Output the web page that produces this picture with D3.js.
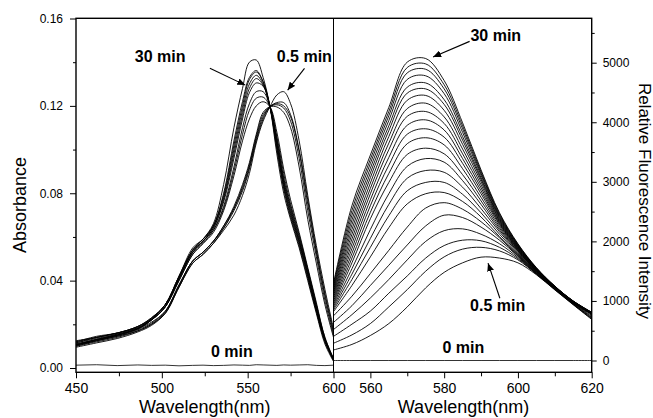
<!DOCTYPE html>
<html>
<head>
<meta charset="utf-8">
<script src="https://cdn.jsdelivr.net/npm/d3@7"></script>
<style>
body{margin:0;background:#fff;}
svg{display:block;font-family:"Liberation Sans",Arial,sans-serif;}
</style>
</head>
<body>
<svg width="653" height="418"></svg>
<script>
// absorbance spectra, values
var absWl = [450,462,474,486,494,502,510,518,524,530,536,542,547,551,555,559,563,567,571,575,580,585,590,595,600];

// red-shifted group, 0.5 min first
var absRed = [
  [.010,.012,.014,.017,.020,.025,.037,.048,.052,.057,.063,.070,.079,.089,.103,.113,.1196,.125,.1265,.121,.104,.079,.056,.036,.018],
  [.0105,.0125,.0145,.0175,.0205,.026,.038,.049,.053,.058,.064,.072,.081,.091,.104,.114,.1196,.1215,.1215,.116,.100,.077,.054,.034,.017],
  [.011,.013,.015,.018,.021,.026,.038,.049,.053,.058,.065,.073,.082,.092,.105,.115,.1196,.121,.120,.115,.099,.075,.053,.033,.016],
  [.0095,.0115,.0135,.0165,.0195,.025,.037,.048,.052,.057,.064,.073,.083,.093,.106,.116,.1196,.1205,.119,.113,.096,.072,.051,.031,.015],
  [.0105,.0125,.0145,.017,.020,.0255,.0375,.049,.053,.058,.065,.074,.084,.094,.107,.117,.1196,.1195,.117,.110,.092,.068,.048,.029,.014]
];
// blue-shifted group, 30 min last
var absBlue = [
  [.0105,.013,.015,.018,.022,.028,.040,.052,.057,.062,.072,.088,.104,.114,.120,.1219,.1196,.108,.091,.077,.062,.046,.030,.014,.0045],
  [.012,.014,.016,.019,.023,.029,.041,.053,.058,.063,.073,.090,.107,.118,.1235,.124,.1196,.106,.089,.075,.061,.045,.029,.014,.004],
  [.010,.0125,.015,.018,.022,.028,.040,.052,.057,.063,.074,.092,.110,.121,.1265,.1265,.1196,.105,.087,.074,.060,.045,.029,.013,.004],
  [.0115,.014,.016,.0185,.0225,.029,.041,.054,.058,.064,.076,.096,.114,.126,.1305,.129,.1196,.104,.086,.073,.059,.044,.028,.013,.004],
  [.0105,.013,.015,.018,.022,.028,.041,.053,.058,.064,.077,.098,.116,.128,.1325,.1295,.1196,.103,.085,.072,.058,.043,.027,.013,.004],
  [.012,.0145,.016,.019,.0225,.029,.042,.055,.059,.065,.078,.100,.118,.130,.134,.130,.1196,.102,.084,.071,.058,.043,.027,.013,.0035],
  [.011,.013,.0155,.018,.022,.028,.041,.053,.058,.065,.079,.102,.120,.132,.1355,.131,.1196,.101,.083,.070,.057,.042,.026,.012,.0035],
  [.0125,.014,.016,.019,.023,.029,.042,.054,.059,.065,.080,.104,.122,.133,.1362,.131,.1196,.100,.082,.069,.056,.041,.026,.012,.0035],
  [.0115,.0135,.0155,.0185,.0225,.029,.042,.054,.059,.066,.084,.110,.128,.140,.141,.133,.1196,.098,.080,.068,.055,.040,.025,.011,.003]
];
var absZero = [.0013,.0015,.0011,.0014,.0012,.0013,.0010,.0012,.0013,.0011,.0012,.0014,.0013,.0012,.0015,.0014,.0013,.0012,.0014,.0013,.0014,.0015,.0012,.0011,.0013];

// fluorescence spectra, 30 min first ... 0.5 min last
var flWl = [550,555,560,565,570,575,580,585,590,595,600,605,610,615,620];
var flCurves = [
  [1300,2600,3450,4250,5010,5070,4700,3990,3200,2480,1960,1560,1250,1000,810],
  [1270,2520,3380,4180,4920,4980,4630,3940,3170,2460,1950,1555,1248,998,808],
  [1240,2440,3310,4110,4830,4890,4560,3890,3140,2440,1940,1550,1246,996,806],
  [1210,2360,3230,4030,4720,4780,4480,3830,3110,2420,1930,1545,1244,994,804],
  [1180,2280,3150,3940,4590,4660,4380,3760,3070,2400,1920,1540,1242,992,802],
  [1150,2200,3070,3860,4490,4560,4300,3700,3040,2380,1910,1535,1240,990,800],
  [1120,2120,2980,3760,4370,4450,4200,3630,3000,2360,1900,1530,1238,988,798],
  [1090,2040,2890,3650,4230,4320,4090,3550,2950,2340,1890,1525,1236,986,796],
  [1060,1960,2800,3540,4100,4180,3980,3470,2900,2320,1880,1520,1234,984,794],
  [1030,1880,2700,3410,3950,4040,3870,3390,2850,2300,1870,1515,1232,982,792],
  [1000,1800,2600,3280,3800,3890,3750,3310,2800,2280,1860,1510,1230,980,790],
  [970,1720,2490,3140,3640,3740,3620,3220,2740,2250,1850,1505,1228,978,788],
  [940,1640,2380,2990,3460,3565,3470,3120,2680,2220,1840,1500,1226,976,786],
  [910,1540,2200,2800,3260,3390,3330,3020,2620,2190,1830,1495,1224,974,784],
  [880,1450,2050,2620,3060,3190,3160,2910,2550,2160,1810,1490,1222,972,782],
  [850,1360,1900,2430,2850,2990,2990,2790,2480,2120,1790,1485,1220,970,780],
  [820,1260,1740,2230,2630,2800,2820,2670,2410,2080,1770,1480,1218,968,778],
  [750,1080,1460,1850,2240,2560,2650,2540,2330,2060,1760,1470,1210,960,760],
  [640,920,1260,1600,1940,2260,2440,2400,2240,2020,1750,1465,1205,955,740],
  [520,770,1050,1360,1690,2000,2180,2210,2120,1960,1730,1460,1200,950,725],
  [405,610,830,1130,1420,1720,1930,2020,2010,1900,1710,1455,1195,945,710],
  [290,430,620,900,1190,1500,1740,1870,1900,1840,1690,1450,1190,940,700],
  [177,270,420,620,900,1220,1480,1640,1735,1720,1640,1440,1185,935,690]
];
var flZero = [0,0,0,0,0,0,0,0,0,0,0,0,0,0,0];

// ticks
var absTicks = [0,0.04,0.08,0.12,0.16],
    absMinor = [0.02,0.06,0.10,0.14],
    wlTicksAbs = [450,500,550,600],
    wlMinorAbs = [475,525,575],
    wlTicksFl = [560,580,600,620],
    wlMinorFl = [570,590,610],
    flTicks = [0,1000,2000,3000,4000,5000],
    flMinor = [500,1500,2500,3500,4500,5500];

// annotations: label position and arrow (from -> to), data units
var notesAbs = [
  {t:"30 min", x:499, y:0.140, a:[528,0.1372,548.6,0.1295]},
  {t:"0.5 min", x:583, y:0.140, a:[583.1,0.1372,573.3,0.1272]},
  {t:"0 min", x:540.8, y:0.0052}
];
var notesFl = [
  {t:"30 min", x:594, y:5370, a:[586.9,5358,577.0,5096]},
  {t:"0.5 min", x:594.5, y:832, a:[595.1,1045,591.9,1634]},
  {t:"0 min", x:585.2, y:121}
];

var svg = d3.select("svg");
var yTop = 18.3, yBot = 372.3, xLeft = 76, xMid = 333.5, xRight = 591.7;

var xAbs = d3.scaleLinear().domain([450,600]).range([xLeft,xMid]),
    yAbs = d3.scaleLinear().domain([0,0.16]).range([368,18.5]),
    xFl = d3.scaleLinear().domain([550,620]).range([xMid,xRight]),
    yFl = d3.scaleLinear().domain([0,5000]).range([360.5,62.7]);

var defs = svg.append("defs");
defs.append("clipPath").attr("id","clipA").append("rect")
    .attr("x",xLeft).attr("y",yTop).attr("width",xMid-xLeft).attr("height",yBot-yTop);
defs.append("clipPath").attr("id","clipF").append("rect")
    .attr("x",xMid).attr("y",yTop).attr("width",xRight-xMid).attr("height",yBot-yTop);
defs.append("marker").attr("id","arr")
    .attr("markerUnits","userSpaceOnUse")
    .attr("markerWidth",9).attr("markerHeight",7)
    .attr("refX",8).attr("refY",3.5).attr("orient","auto")
  .append("path").attr("d","M0,0L8,3.5L0,7Z").attr("fill","#000");

var lineAbs = d3.line()
    .x(function(d,i){ return xAbs(absWl[i]); })
    .y(function(d){ return yAbs(d); })
    .curve(d3.curveCatmullRom.alpha(0.5));
var lineFl = d3.line()
    .x(function(d,i){ return xFl(flWl[i]); })
    .y(function(d){ return yFl(d); })
    .curve(d3.curveCatmullRom.alpha(0.5));

svg.append("g").attr("clip-path","url(#clipA)")
  .selectAll("path")
  .data(absRed.concat(absBlue))
  .enter().append("path")
    .attr("d",lineAbs)
    .attr("fill","none").attr("stroke","#000").attr("stroke-width",0.9);
svg.append("path").datum(absZero)
    .attr("d",lineAbs.curve(d3.curveLinear))
    .attr("fill","none").attr("stroke","#000").attr("stroke-width",0.8);

svg.append("g").attr("clip-path","url(#clipF)")
  .selectAll("path")
  .data(flCurves)
  .enter().append("path")
    .attr("d",lineFl)
    .attr("fill","none").attr("stroke","#000").attr("stroke-width",0.9);
svg.append("path").datum(flZero)
    .attr("d",lineFl)
    .attr("fill","none").attr("stroke","#000").attr("stroke-width",0.8);

// axes
function style(g){
  g.select(".domain").remove();
  g.selectAll("line").attr("stroke","#000").attr("stroke-width",1);
  g.selectAll("text").attr("fill","#000");
}
svg.append("g").attr("transform","translate(0,"+yBot+")")
    .call(d3.axisBottom(xAbs).tickValues(wlTicksAbs).tickFormat(d3.format("d")).tickSize(6).tickPadding(5))
    .call(style).selectAll("text").style("font-size","14px");
svg.append("g").attr("transform","translate(0,"+yBot+")")
    .call(d3.axisBottom(xAbs).tickValues(wlMinorAbs).tickFormat("").tickSize(4)).call(style);
svg.append("g").attr("transform","translate(0,"+yBot+")")
    .call(d3.axisBottom(xFl).tickValues(wlTicksFl).tickFormat(d3.format("d")).tickSize(6).tickPadding(5))
    .call(style).selectAll("text").style("font-size","14px");
svg.append("g").attr("transform","translate(0,"+yBot+")")
    .call(d3.axisBottom(xFl).tickValues(wlMinorFl).tickFormat("").tickSize(4)).call(style);

svg.append("g").attr("transform","translate("+xLeft+",0)")
    .call(d3.axisLeft(yAbs).tickValues(absTicks).tickFormat(d3.format(".2f")).tickSize(6).tickPadding(7))
    .call(style).selectAll("text").style("font-size","12px");
svg.append("g").attr("transform","translate("+xLeft+",0)")
    .call(d3.axisLeft(yAbs).tickValues(absMinor).tickFormat("").tickSize(3)).call(style);
svg.append("g").attr("transform","translate("+xRight+",0)")
    .call(d3.axisRight(yFl).tickValues(flTicks).tickFormat(d3.format("d")).tickSize(5).tickPadding(6))
    .call(style).selectAll("text").style("font-size","12px");
svg.append("g").attr("transform","translate("+xRight+",0)")
    .call(d3.axisRight(yFl).tickValues(flMinor).tickFormat("").tickSize(3)).call(style);

// frame
var frame = svg.append("g").attr("stroke","#000").attr("stroke-width",1.4);
frame.append("rect").attr("x",xLeft).attr("y",yTop)
    .attr("width",xRight-xLeft).attr("height",yBot-yTop).attr("fill","none");
frame.append("line").attr("x1",xMid).attr("x2",xMid).attr("y1",yTop).attr("y2",yBot)
    .attr("stroke-width",1);

// titles
svg.append("text").attr("transform","translate(26,205) rotate(-90)")
    .attr("text-anchor","middle").style("font-size","18px").text("Absorbance");
svg.append("text").attr("transform","translate(639,201) rotate(90)")
    .attr("text-anchor","middle").style("font-size","17px").text("Relative Fluorescence Intensity");
svg.append("text").attr("x",(xLeft+xMid)/2).attr("y",413)
    .attr("text-anchor","middle").style("font-size","18px").text("Wavelength(nm)");
svg.append("text").attr("x",463.5).attr("y",413)
    .attr("text-anchor","middle").style("font-size","18px").text("Wavelength(nm)");

// annotations
function notes(list, x, y){
  list.forEach(function(n){
    svg.append("text").attr("x",x(n.x)).attr("y",y(n.y))
        .attr("text-anchor","middle").style("font-size","16px").style("font-weight","bold")
        .text(n.t);
    if (n.a) svg.append("line")
        .attr("x1",x(n.a[0])).attr("y1",y(n.a[1]))
        .attr("x2",x(n.a[2])).attr("y2",y(n.a[3]))
        .attr("stroke","#000").attr("stroke-width",1.1)
        .attr("marker-end","url(#arr)");
  });
}
notes(notesAbs, xAbs, yAbs);
notes(notesFl, xFl, yFl);
</script>
</body>
</html>
